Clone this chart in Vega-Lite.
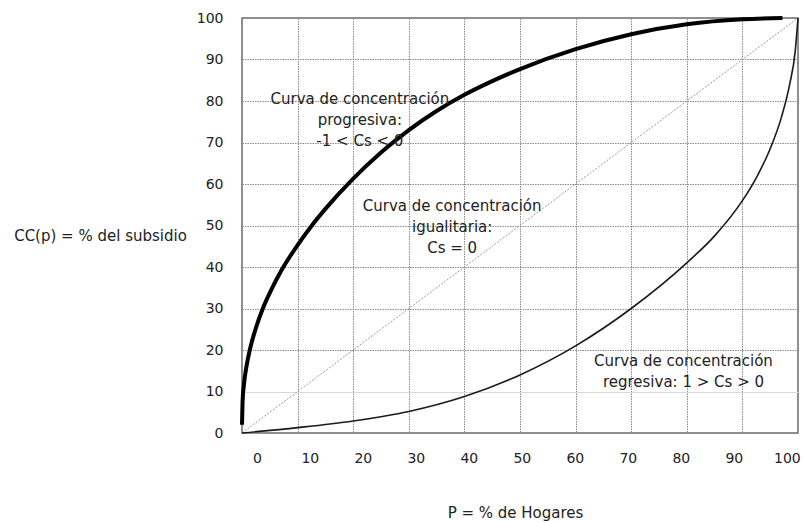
{
  "$schema": "https://vega.github.io/schema/vega-lite/v6.json",
  "width": 556,
  "height": 415,
  "autosize": "none",
  "padding": {"left": 242, "top": 18, "right": 7, "bottom": 89},
  "background": "white",
  "config": {
    "font": "DejaVu Sans",
    "view": {"stroke": "#6b6b6b", "strokeWidth": 1.5},
    "axis": {
      "labelFont": "DejaVu Sans",
      "labelFontSize": 14,
      "labelColor": "#222222",
      "titleFont": "DejaVu Sans",
      "titleFontSize": 15,
      "titleFontWeight": "normal",
      "titleColor": "#222222"
    }
  },
  "datasets": {
    "curves": [
      {"curve": "diag", "p": 0, "cc": 0},
      {"curve": "diag", "p": 100, "cc": 100},
      {"curve": "reg", "p": 0, "cc": 0},
      {"curve": "reg", "p": 10, "cc": 1.3},
      {"curve": "reg", "p": 20, "cc": 2.9},
      {"curve": "reg", "p": 30, "cc": 5.2},
      {"curve": "reg", "p": 40, "cc": 8.8},
      {"curve": "reg", "p": 50, "cc": 14},
      {"curve": "reg", "p": 60, "cc": 21},
      {"curve": "reg", "p": 70, "cc": 30},
      {"curve": "reg", "p": 80, "cc": 41},
      {"curve": "reg", "p": 85, "cc": 47.5},
      {"curve": "reg", "p": 90, "cc": 56},
      {"curve": "reg", "p": 92.5, "cc": 61.5},
      {"curve": "reg", "p": 95, "cc": 68.5},
      {"curve": "reg", "p": 97, "cc": 76},
      {"curve": "reg", "p": 98.5, "cc": 84},
      {"curve": "reg", "p": 99.5, "cc": 92},
      {"curve": "reg", "p": 100, "cc": 100},
      {"curve": "prog", "p": 0, "cc": 2},
      {"curve": "prog", "p": 0.1, "cc": 7.5},
      {"curve": "prog", "p": 0.35, "cc": 11.7},
      {"curve": "prog", "p": 0.8, "cc": 16},
      {"curve": "prog", "p": 1.4, "cc": 20},
      {"curve": "prog", "p": 2.5, "cc": 25.3},
      {"curve": "prog", "p": 3.8, "cc": 30.2},
      {"curve": "prog", "p": 5.3, "cc": 34.6},
      {"curve": "prog", "p": 7.1, "cc": 39.2},
      {"curve": "prog", "p": 10, "cc": 45.3},
      {"curve": "prog", "p": 12.5, "cc": 49.9},
      {"curve": "prog", "p": 15, "cc": 54},
      {"curve": "prog", "p": 20, "cc": 61.3},
      {"curve": "prog", "p": 25, "cc": 67.6},
      {"curve": "prog", "p": 30, "cc": 73},
      {"curve": "prog", "p": 35, "cc": 77.6},
      {"curve": "prog", "p": 40, "cc": 81.5},
      {"curve": "prog", "p": 45, "cc": 84.8},
      {"curve": "prog", "p": 50, "cc": 87.7},
      {"curve": "prog", "p": 60, "cc": 92.5},
      {"curve": "prog", "p": 70, "cc": 96.1},
      {"curve": "prog", "p": 80, "cc": 98.5},
      {"curve": "prog", "p": 90, "cc": 99.7},
      {"curve": "prog", "p": 97.2, "cc": 100}
    ],
    "notes": [
      {"p": 21.2, "cc": 80.6, "label": "Curva de concentración\nprogresiva:\n-1 < Cs < 0"},
      {"p": 37.8, "cc": 54.7, "label": "Curva de concentración\nigualitaria:\nCs = 0"},
      {"p": 79.4, "cc": 17.3, "label": "Curva de concentración\nregresiva: 1 > Cs > 0"}
    ],
    "ticks": [
      {"p": 0}, {"p": 10}, {"p": 20}, {"p": 30}, {"p": 40}, {"p": 50},
      {"p": 60}, {"p": 70}, {"p": 80}, {"p": 90}, {"p": 100}
    ]
  },
  "resolve": {"scale": {"x": "independent"}, "axis": {"x": "independent"}},
  "layer": [
    {
      "encoding": {
        "x": {
          "field": "p",
          "type": "quantitative",
          "scale": {"domain": [0, 100], "nice": false, "zero": false},
          "axis": {
            "orient": "bottom",
            "values": [10, 20, 30, 40, 50, 60, 70, 80, 90],
            "labels": false,
            "ticks": false,
            "domain": false,
            "grid": true,
            "gridColor": "#8a8a8a",
            "gridDash": [1.5, 1],
            "gridWidth": 1,
            "title": null
          }
        },
        "y": {
          "field": "cc",
          "type": "quantitative",
          "scale": {"domain": [0, 100], "nice": false},
          "axis": {
            "values": [0, 10, 20, 30, 40, 50, 60, 70, 80, 90, 100],
            "ticks": false,
            "domain": false,
            "labelPadding": 19,
            "grid": true,
            "gridColor": {
              "condition": [
                {"test": "datum.value === 0 || datum.value === 100", "value": "transparent"},
                {"test": "datum.value === 10", "value": "#d9d9d9"}
              ],
              "value": "#8a8a8a"
            },
            "gridDash": {
              "condition": {"test": "datum.value === 10", "value": []},
              "value": [1.5, 1]
            },
            "gridWidth": 1,
            "title": "CC(p) = % del subsidio",
            "titleAngle": 0,
            "titleAlign": "center",
            "titleBaseline": "middle",
            "titleX": -142,
            "titleY": 217
          }
        }
      },
      "layer": [
        {
          "data": {"name": "curves"},
          "transform": [{"filter": "datum.curve === 'diag'"}],
          "mark": {"type": "line", "color": "#9a9a9a", "strokeWidth": 1, "strokeDash": [2, 1.5]}
        },
        {
          "data": {"name": "curves"},
          "transform": [{"filter": "datum.curve === 'reg'"}],
          "mark": {"type": "line", "color": "#1a1a1a", "strokeWidth": 1.6, "interpolate": "monotone"}
        },
        {
          "data": {"name": "curves"},
          "transform": [{"filter": "datum.curve === 'prog'"}],
          "mark": {"type": "line", "color": "#000000", "strokeWidth": 4, "interpolate": "monotone"}
        },
        {
          "data": {"name": "notes"},
          "mark": {
            "type": "text",
            "lineBreak": "\n",
            "lineHeight": 21,
            "align": "center",
            "baseline": "middle",
            "font": "DejaVu Sans",
            "fontSize": 15,
            "color": "#222222"
          },
          "encoding": {"text": {"field": "label"}}
        }
      ]
    },
    {
      "data": {"name": "ticks"},
      "mark": {"type": "point", "opacity": 0},
      "encoding": {
        "x": {
          "field": "p",
          "type": "quantitative",
          "scale": {"domain": [-2.8, 102.1], "nice": false, "zero": false},
          "axis": {
            "orient": "bottom",
            "values": [0, 10, 20, 30, 40, 50, 60, 70, 80, 90, 100],
            "grid": false,
            "ticks": false,
            "domain": false,
            "labelPadding": 18,
            "labelFlush": false,
            "labelOverlap": false,
            "title": "P = % de Hogares",
            "titleAlign": "center",
            "titleBaseline": "middle",
            "titleX": 273,
            "titleY": 79
          }
        }
      }
    }
  ]
}
